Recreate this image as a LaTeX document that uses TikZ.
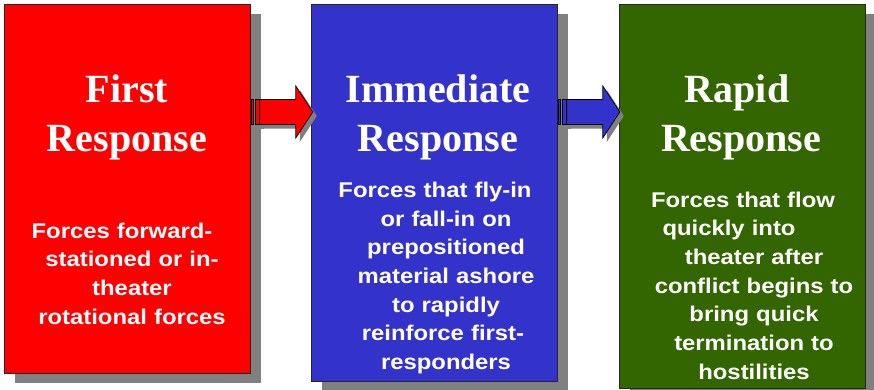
\documentclass[tikz,border=0pt]{standalone}
\usepackage{fontspec}
\setmainfont{Liberation Serif}
\newfontfamily\bodyfont[FakeStretch=1.12]{Liberation Sans}
\usetikzlibrary{shadows}

\definecolor{boxred}{RGB}{255,0,0}
\definecolor{boxblue}{RGB}{51,51,204}
\definecolor{boxgreen}{RGB}{51,102,0}
\definecolor{shadowgray}{RGB}{128,128,128}

\begin{document}
\begin{tikzpicture}[
    x=1pt, y=-1pt,
    box/.style={rectangle, draw=black!85, line width=0.8pt, anchor=north west,
                minimum width=246pt, inner sep=0pt,
                drop shadow={shadow xshift=11pt, shadow yshift=-10pt,
                             fill=shadowgray, draw=none, opacity=1}},
    title/.style={text=white, anchor=base, align=center, text width=240pt, inner sep=0pt,
                  font=\fontsize{40}{49}\selectfont\bfseries},
    body/.style={text=white, anchor=base, align=center, text width=240pt, inner sep=0pt,
                 font=\bodyfont\fontsize{21.3}{28.7}\selectfont\bfseries},
    arrowbody/.style={draw=black, line width=0.7pt,
                      drop shadow={shadow xshift=4pt, shadow yshift=-4pt,
                                   fill=shadowgray, draw=none, opacity=1}}
]
\useasboundingbox (0,0) rectangle (874,389);

% Kaesten
\node[box, fill=boxred,   minimum height=369pt] (first)  at (4,4)   {};
\node[box, fill=boxblue,  minimum height=377pt] (second) at (311,4) {};
\node[box, fill=boxgreen, minimum height=384pt] (third)  at (619,4) {};

% Pfeile
\coordinate (s1) at ([yshift=-108pt]first.north east);
\coordinate (s2) at ([yshift=-108pt]second.north east);

\draw[arrowbody, fill=boxred] (s1) ++(1,-12.5) rectangle ++(2,25);
\draw[arrowbody, fill=boxred] (s1) ++(5,-12.5) rectangle ++(4,25);
\draw[arrowbody, fill=boxred] (s1) ++(9,-12.5) -- ++(36,0) -- ++(0,-13.5)
    -- ++(17,26) -- ++(-17,26) -- ++(0,-13.5) -- ++(-36,0) -- cycle;

\draw[arrowbody, fill=boxblue] (s2) ++(1,-12.5) rectangle ++(2,25);
\draw[arrowbody, fill=boxblue] (s2) ++(5,-12.5) rectangle ++(4,25);
\draw[arrowbody, fill=boxblue] (s2) ++(9,-12.5) -- ++(36,0) -- ++(0,-13.5)
    -- ++(17,26) -- ++(-17,26) -- ++(0,-13.5) -- ++(-36,0) -- cycle;

% First Response
\node[title] (firsttitle) at (127,102.5) {First\\Response};
\node[body]  (firstbody)  at (132,238) {Forces forward-\kern20pt\\stationed or in-\\theater\\rotational forces};

% Immediate Response
\node[title] (secondtitle) at (438,102.5) {Immediate\\Response};
\node[body]  (secondbody)  at (446,197.3) {Forces that fly-in\kern22pt\\or fall-in on\\prepositioned\\material ashore\\to rapidly\\reinforce first-\kern6pt\\responders};

% Rapid Response
\node[title] (thirdtitle) at (741,102.5) {Rapid\kern8pt\\Response};
\node[body]  (thirdbody)  at (754,207) {Forces that flow\kern22pt\\quickly into\kern50pt\\theater after\\conflict begins to\\bring quick\\termination to\\hostilities};

\end{tikzpicture}
\end{document}
